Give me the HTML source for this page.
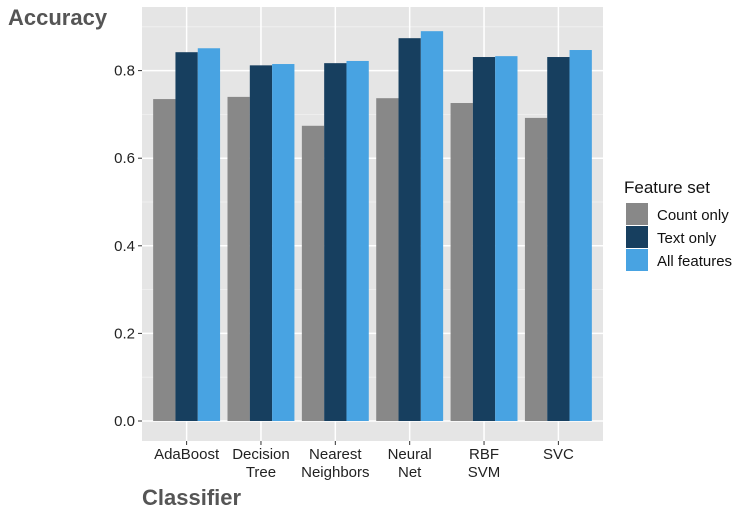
<!DOCTYPE html>
<html><head><meta charset="utf-8"><style>
html,body{margin:0;padding:0;background:#fff;}
svg{display:block;font-family:"Liberation Sans",sans-serif;}
</style></head><body>
<svg id="chart" width="755" height="511" viewBox="0 0 755 511">
<rect x="142" y="7" width="461" height="434" fill="#e5e5e5"/>
<g id="grid"></g>
<g id="bars"></g>
<g id="axes"></g>
<text x="8" y="25" font-size="22" font-weight="bold" fill="#555">Accuracy</text>
<text x="142" y="505" font-size="22" font-weight="bold" fill="#555">Classifier</text>
<g>
<text x="624" y="193" font-size="17" fill="#111">Feature set</text>
<rect x="626" y="203" width="22" height="22" fill="#888888"/>
<text x="657" y="220" font-size="15" fill="#111">Count only</text>
<rect x="626" y="226" width="22" height="22" fill="#173f5f"/>
<text x="657" y="243" font-size="15" fill="#111">Text only</text>
<rect x="626" y="249" width="22" height="22" fill="#48a3e2"/>
<text x="657" y="266" font-size="15" fill="#111">All features</text>
</g>
</svg>
<script>
const categories = [["AdaBoost"],["Decision","Tree"],["Nearest","Neighbors"],["Neural","Net"],["RBF","SVM"],["SVC"]];
const countOnly = [0.735, 0.740, 0.674, 0.737, 0.726, 0.692];
const textOnly = [0.842, 0.812, 0.817, 0.874, 0.831, 0.831];
const allFeatures = [0.851, 0.815, 0.822, 0.890, 0.833, 0.847];
const yTicks = [0, 0.2, 0.4, 0.6, 0.8];
const yTickLabels = ["0.0", "0.2", "0.4", "0.6", "0.8"];
const yMinor = [0.1, 0.3, 0.5, 0.7, 0.9];

const NS = "http://www.w3.org/2000/svg";
const pL = 142, pR = 603, pT = 7, pB = 441;
const y0 = 421, yScale = 438;
function yPos(v){ return y0 - v * yScale; }
const step = (pR - pL) / (categories.length - 1 + 1.2);
function xPos(i){ return pL + (0.6 + i) * step; }
function mk(tag, attrs, parent){ const e = document.createElementNS(NS, tag); for (const k in attrs) e.setAttribute(k, attrs[k]); parent.appendChild(e); return e; }

const grid = document.getElementById("grid");
yMinor.forEach(v => {
  const l = mk("line", {x1:pL, x2:pR, y1:yPos(v), y2:yPos(v), stroke:"#f2f2f2", "stroke-width":0.8}, grid);
  
  
});
yTicks.forEach(v => {
  const l = mk("line", {x1:pL, x2:pR, y1:yPos(v), y2:yPos(v), stroke:"#fff", "stroke-width":1.5}, grid);
  
  
});
categories.forEach((c, i) => {
  const l = mk("line", {x1:xPos(i), x2:xPos(i), y1:pT, y2:pB, stroke:"#fff", "stroke-width":1.5}, grid);
  
  
});

const bars = document.getElementById("bars");
const series = [[countOnly, "#888888", "count"], [textOnly, "#173f5f", "text"], [allFeatures, "#48a3e2", "all"]];
const bw = step * 0.9 / 3;
categories.forEach((c, i) => {
  series.forEach((s, j) => {
    const v = s[0][i];
    const x = xPos(i) - step * 0.45 + j * bw;
    const r = mk("rect", {x:x, y:yPos(v), width:bw, height:y0 - yPos(v), fill:s[1]}, bars);
    
    
  });
});

const axes = document.getElementById("axes");
yTicks.forEach((v, k) => {
  const t = mk("line", {x1:pL - 4, x2:pL, y1:yPos(v), y2:yPos(v), stroke:"#333", "stroke-width":1}, axes);
  
  
  const tx = mk("text", {x:pL - 7, y:yPos(v) + 5, "text-anchor":"end", "font-size":15, fill:"#222"}, axes);
  tx.textContent = yTickLabels[k];
  
  
});
categories.forEach((c, i) => {
  const t = mk("line", {x1:xPos(i), x2:xPos(i), y1:pB, y2:pB + 4, stroke:"#333", "stroke-width":1}, axes);
  
  
  c.forEach((line, li) => {
    const tx = mk("text", {x:xPos(i), y:459 + li * 18, "text-anchor":"middle", "font-size":15, fill:"#222"}, axes);
    tx.textContent = line;
    
    
  });
});
</script>
</body></html>
